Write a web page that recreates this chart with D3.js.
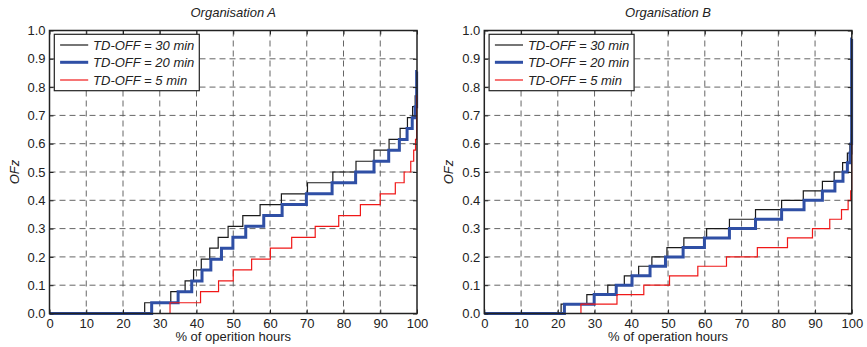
<!DOCTYPE html>
<html>
<head>
<meta charset="utf-8">
<script src="https://cdn.jsdelivr.net/npm/d3@7"></script>
<style>
  body { margin: 0; background: #fff; }
  svg { display: block; font-family: "Liberation Sans", Arial, sans-serif; }
</style>
</head>
<body>
<svg id="chart" width="867" height="347"></svg>
<script>
// ---------- data ----------
const xTickValues = [0, 10, 20, 30, 40, 50, 60, 70, 80, 90, 100];
const xTickLabels = ["0", "10", "20", "30", "40", "50", "60", "70", "80", "90", "100"];
const yTickValues = [0, 0.1, 0.2, 0.3, 0.4, 0.5, 0.6, 0.7, 0.8, 0.9, 1.0];
const yTickLabels = ["0.0", "0.1", "0.2", "0.3", "0.4", "0.5", "0.6", "0.7", "0.8", "0.9", "1.0"];

const seriesNames = ["TD-OFF = 30 min", "TD-OFF = 20 min", "TD-OFF = 5 min"];
const seriesColors = ["#1a1a1a", "#2f4fa5", "#f01818"];
const seriesWidths = [1.2, 3, 1.2];

// Organisation A (step positions in % of operation hours, OFz levels)
const orgA_30_x = [0, 25.9, 33.0, 36.9, 39.2, 41.3, 43.6, 45.9, 48.6, 52.6, 57.3, 63.1, 70.2, 77.1, 83.4, 88.3, 92.4, 95.4, 97.4, 98.8, 99.5, 100];
const orgA_30_y = [0, 0.038, 0.077, 0.115, 0.154, 0.192, 0.231, 0.269, 0.308, 0.346, 0.385, 0.423, 0.462, 0.5, 0.538, 0.577, 0.615, 0.654, 0.692, 0.731, 0.769, 0.769];
const orgA_20_x = [0, 27.8, 35.0, 38.7, 41.5, 43.9, 46.8, 49.9, 53.4, 58.3, 63.3, 69.9, 76.9, 83.3, 88.3, 92.3, 95.2, 97.3, 98.7, 99.5, 99.9, 100];
const orgA_20_y = [0, 0.038, 0.077, 0.115, 0.154, 0.192, 0.231, 0.269, 0.308, 0.346, 0.385, 0.423, 0.462, 0.5, 0.538, 0.577, 0.615, 0.654, 0.692, 0.731, 0.855, 0.855];
const orgA_5_x = [0, 32.8, 41.1, 46.0, 50.0, 55.0, 60.1, 65.9, 72.3, 78.7, 84.6, 90.0, 94.1, 96.5, 98.3, 99.1, 99.6, 99.9, 100];
const orgA_5_y = [0, 0.038, 0.077, 0.115, 0.154, 0.192, 0.231, 0.269, 0.308, 0.346, 0.385, 0.423, 0.462, 0.5, 0.538, 0.577, 0.615, 0.77, 0.77];

// Organisation B
const orgB_30_x = [0, 20.9, 27.9, 33.6, 38.1, 42.0, 45.6, 49.7, 54.3, 60.5, 66.7, 73.8, 80.9, 86.8, 92.0, 95.2, 97.5, 98.8, 99.5, 99.9, 100];
const orgB_30_y = [0, 0.033, 0.067, 0.1, 0.133, 0.167, 0.2, 0.233, 0.267, 0.3, 0.333, 0.367, 0.4, 0.433, 0.467, 0.5, 0.533, 0.567, 0.6, 0.633, 0.633];
const orgB_20_x = [0, 21.8, 29.9, 35.9, 40.2, 45.1, 49.3, 54.1, 59.9, 66.7, 73.8, 80.9, 87.0, 92.0, 95.4, 97.6, 98.8, 99.5, 99.8, 99.95, 100];
const orgB_20_y = [0, 0.033, 0.067, 0.1, 0.133, 0.167, 0.2, 0.233, 0.267, 0.3, 0.333, 0.367, 0.4, 0.433, 0.467, 0.5, 0.533, 0.567, 0.6, 0.97, 0.97];
const orgB_5_x = [0, 26.3, 36.1, 43.4, 50.4, 58.1, 65.9, 74.3, 82.5, 89.3, 94.0, 97.2, 99.0, 99.7, 99.95, 100];
const orgB_5_y = [0, 0.033, 0.067, 0.1, 0.133, 0.167, 0.2, 0.233, 0.267, 0.3, 0.333, 0.367, 0.4, 0.433, 0.6, 0.6];

const panels = [
  { title: "Organisation A", xlabel: "% of operition hours", left: 49.5,
    series: [[orgA_30_x, orgA_30_y], [orgA_20_x, orgA_20_y], [orgA_5_x, orgA_5_y]] },
  { title: "Organisation B", xlabel: "% of operation hours", left: 484.3,
    series: [[orgB_30_x, orgB_30_y], [orgB_20_x, orgB_20_y], [orgB_5_x, orgB_5_y]] }
];

// ---------- drawing ----------
const svg = d3.select("#chart");
const plotW = 367.5, plotTop = 30.5, plotBottom = 313.5;
const textColor = "#222";

panels.forEach(p => {
  const x = d3.scaleLinear().domain([0, 100]).range([p.left, p.left + plotW]);
  const y = d3.scaleLinear().domain([0, 1]).range([plotBottom, plotTop]);
  const g = svg.append("g");

  // grid
  const grid = g.append("g").attr("stroke", "#555").attr("stroke-width", 0.9)
    .attr("stroke-dasharray", "6,4");
  grid.selectAll(".vg").data(xTickValues.slice(1, -1)).join("line")
    .attr("x1", d => x(d)).attr("x2", d => x(d)).attr("y1", plotTop).attr("y2", plotBottom);
  grid.selectAll(".hg").data(yTickValues.slice(1, -1)).join("line")
    .attr("y1", d => y(d)).attr("y2", d => y(d)).attr("x1", x(0)).attr("x2", x(100));

  // series
  const line = d3.line().x(d => x(d[0])).y(d => y(d[1])).curve(d3.curveStepAfter);
  p.series.forEach((s, i) => {
    const pts = s[0].map((v, j) => [v, s[1][j]]);
    g.append("path").datum(pts).attr("d", line).attr("fill", "none")
      .attr("stroke", seriesColors[i]).attr("stroke-width", seriesWidths[i])
      .attr("stroke-linejoin", "miter");
  });

  // axes (inward ticks)
  const fmtX = (d, i) => xTickLabels[i];
  const fmtY = (d, i) => yTickLabels[i];
  const ax = g.append("g").attr("transform", `translate(0,${plotBottom})`)
    .call(d3.axisBottom(x).tickValues(xTickValues).tickFormat(fmtX).tickSizeInner(-4).tickSizeOuter(0).tickPadding(5));
  const axT = g.append("g").attr("transform", `translate(0,${plotTop})`)
    .call(d3.axisTop(x).tickValues(xTickValues).tickFormat("").tickSizeInner(-4).tickSizeOuter(0));
  const ay = g.append("g").attr("transform", `translate(${p.left},0)`)
    .call(d3.axisLeft(y).tickValues(yTickValues).tickFormat(fmtY).tickSizeInner(-4).tickSizeOuter(0).tickPadding(4));
  const ayR = g.append("g").attr("transform", `translate(${p.left + plotW},0)`)
    .call(d3.axisRight(y).tickValues(yTickValues).tickFormat("").tickSizeInner(-4).tickSizeOuter(0));
  [ax, axT, ay, ayR].forEach(a => {
    a.select(".domain").remove();
    a.selectAll("line").attr("stroke", "#222");
    a.selectAll("text").attr("fill", textColor).style("font-size", "13px")
      .style("font-family", '"Liberation Sans", Arial, sans-serif');
  });

  // frame
  g.append("rect").attr("x", x(0)).attr("y", plotTop).attr("width", plotW).attr("height", plotBottom - plotTop)
    .attr("fill", "none").attr("stroke", "#222").attr("stroke-width", 1.5);

  // title & labels
  g.append("text").attr("x", x(50)).attr("y", 17).attr("text-anchor", "middle")
    .attr("font-style", "italic").attr("font-size", 13).attr("fill", textColor).text(p.title);
  g.append("text").attr("x", x(50)).attr("y", 341).attr("text-anchor", "middle")
    .attr("font-size", 13).attr("fill", textColor).text(p.xlabel);
  g.append("text").attr("transform", `translate(${p.left - 31},${(plotTop + plotBottom) / 2}) rotate(-90)`)
    .attr("text-anchor", "middle").attr("font-style", "italic").attr("font-size", 13)
    .attr("fill", textColor).text("OFz");

  // legend
  const lg = g.append("g").attr("transform", `translate(${p.left},${plotTop})`);
  lg.append("rect").attr("x", 4.8).attr("y", 3.8).attr("width", 145).attr("height", 56.4)
    .attr("fill", "#fff").attr("stroke", "#222").attr("stroke-width", 1.2);
  const rows = [14.5, 31.8, 49.5];
  seriesNames.forEach((name, i) => {
    lg.append("line").attr("x1", 10.6).attr("x2", 38.7).attr("y1", rows[i]).attr("y2", rows[i])
      .attr("stroke", seriesColors[i]).attr("stroke-width", seriesWidths[i]);
    lg.append("text").attr("x", 43.6).attr("y", rows[i] + 4.6).attr("font-size", 13)
      .attr("font-style", "italic").attr("fill", textColor).text(name);
  });
});
</script>
</body>
</html>
